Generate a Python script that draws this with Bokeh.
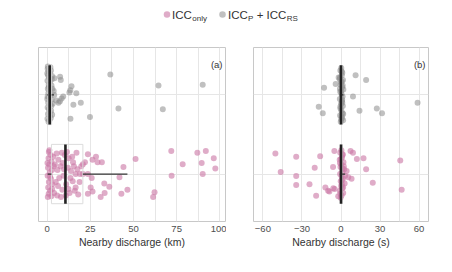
from bokeh.plotting import figure
from bokeh.layouts import column, row
from bokeh.models import Range1d, FixedTicker, Label
from bokeh.embed import file_html
from bokeh.resources import INLINE
from bokeh.core.properties import value

# ---------------- data ----------------
groups = ["ICC_only", "ICC_P + ICC_RS"]
group_pos = {"ICC_only": 1, "ICC_P + ICC_RS": 2}

# panel (a): nearby discharge distance (km)
a_gray_km = [36.6, 64.5, 90.1, 41.3, 67.0, 24.8, 13.5, 19.5, 15.2, 16.9, 14.1, 13.4, 12.9, 7.9, 7.5,
             9.3, 8.4, 7.4, 6.6, 4.2, 3.8, 4.1, 5.3,
             0.3, 0.8, 1.5, 2.2, 0.5, 1.1, 2.8, 0.2, 1.8, 0.9, 2.5, 0.4, 1.4, 3.0, 0.7, 2.0, 1.2, 0.1,
             2.6, 0.6, 1.7, 3.2, 0.3, 1.0, 2.3, 0.5, 1.6, 2.9, 0.2, 1.3, 0.8, 2.1, 0.4, 1.9, 0.1, 2.7,
             1.0, 0.3, 2.4, 1.5]
a_gray_jit = [0.26, 0.12, 0.13, -0.17, -0.18, -0.28, -0.30, -0.10, -0.125, 0.02, 0.11, 0.06, 0.03, 0.19, 0.23,
              -0.02, -0.045, -0.08, -0.10, 0.21, 0.05, 0.0, -0.07,
              0.33, 0.30, 0.28, 0.31, 0.25, 0.22, 0.24, 0.18, 0.17, 0.13, 0.12, 0.08, 0.06, 0.08, 0.02, 0.0, -0.03, -0.05,
              -0.06, -0.10, -0.12, -0.11, -0.16, -0.18, -0.20, -0.24, -0.26, -0.25, -0.30, -0.32, -0.34, -0.29, 0.36, 0.35, 0.27, 0.20,
              0.10, -0.02, -0.14, -0.22]

a_pink_km = [71.9, 87.0, 91.9, 96.5, 78.5, 89.5, 97.4, 72.1, 90.1, 51.2, 44.2, 41.9, 46.5, 43.0, 62.2, 61.4,
             36.0, 33.1, 33.3, 31.0, 23.6, 25.2, 26.3, 25.8, 23.6, 26.3, 28.3, 29.2, 31.7, 21.9, 20.7, 19.8,
             19.0, 20.7, 23.6,
             1.0, 2.0, 0.8, 2.5, 1.2, 0.5, 2.8, 1.5, 0.3, 2.2, 1.0, 3.0, 0.6, 1.8, 0.9, 2.4, 1.3, 0.2, 3.5,
             1.7, 4.0, 3.8, 0.4, 2.9,
             5.5, 6.5, 6.0, 7.0, 6.3, 5.8, 8.5, 9.0, 9.5, 8.8, 11.5, 12.5, 12.0, 13.5, 11.0, 13.0, 14.5, 15.5,
             14.8, 16.0, 17.0, 17.5, 16.5, 18.0, 13.8, 10.2, 7.8, 10.8, 12.3, 15.0, 16.5, 8.0, 9.8, 5.0, 4.5, 18.8]
a_pink_jit = [0.29, 0.27, 0.29, 0.20, 0.125, 0.14, 0.07, -0.02, 0.0, 0.19, 0.09, -0.04, -0.20, -0.25, -0.23, -0.29,
              -0.16, -0.12, -0.24, -0.29, -0.25, -0.17, -0.22, -0.05, 0.25, 0.18, 0.22, 0.15, 0.15, 0.15, 0.125, 0.10,
              0.0, 0.0, 0.0,
              0.28, 0.24, 0.20, 0.16, 0.12, 0.08, 0.05, 0.02, -0.02, -0.06, -0.10, -0.13, -0.17, -0.21, -0.25, -0.28, 0.30, 0.14, 0.22,
              -0.03, -0.24, 0.10, -0.29, -0.19,
              0.26, 0.18, 0.05, -0.05, -0.15, -0.27, 0.27, 0.14, -0.02, -0.20, 0.28, 0.20, 0.08, -0.05, -0.13, -0.24, 0.22, 0.10,
              -0.09, -0.21, 0.27, 0.06, -0.17, -0.26, 0.04, 0.24, 0.10, -0.27, -0.19, 0.15, 0.0, -0.29, 0.06, -0.10, 0.12, -0.10]

# box statistics (panel a): q1, median, q3, lower whisker, upper whisker
a_box_gray = [0.4, 1.5, 2.6, 0.0, 4.0]
a_box_pink = [2.5, 10.6, 20.7, 0.3, 46.5]

# panel (b): nearby discharge time (s)
b_gray_s = [11.2, 19.3, -13.0, -4.1, 9.2, -17.1, -14.0, 14.2, 27.5, 31.5, 58.8, -1.8,
            0.2, -0.5, 1.0, 0.6, -0.8, 1.5, 0.1, -0.3, 0.9, 1.8, -0.6, 0.4, 1.2, -0.9, 0.7, 0.0, 1.4, -0.4,
            0.3, 1.1, -0.7, 0.8, 1.6, -0.2, 0.5, -1.0, 1.3, 0.2, 0.9, -0.5, 1.7, 0.1, 0.6, -0.8, 1.0, 0.4]
b_gray_jit = [0.25, 0.19, 0.09, 0.14, -0.02, -0.15, -0.23, -0.20, -0.17, -0.23, -0.10, 0.22,
              0.34, 0.31, 0.28, 0.25, 0.22, 0.19, 0.16, 0.13, 0.10, 0.07, 0.04, 0.01, -0.02, -0.05, -0.08, -0.11, -0.14, -0.17,
              -0.20, -0.23, -0.26, -0.29, -0.32, -0.34, 0.30, 0.20, 0.12, 0.05, -0.06, -0.15, -0.24, -0.31, 0.17, 0.08, -0.10, -0.27]

b_pink_s = [-50.4, -34.4, -16.0, -5.1, -46.3, -34.4, -20.2, -6.1, -34.4, -24.2, -12.0, -9.9, -8.9, -5.9, -4.9,
            -19.1, -2.1, 7.3, 9.2, 12.2, 17.3, 19.3, 4.3, 5.6, 8.1, 24.4, 45.5, 46.6,
            0.3, -0.6, 1.2, 0.8, -1.0, 1.9, 0.2, -0.4, 2.4, 1.0, -0.7, 0.5, 1.5, -0.2, 2.8, 0.1, 0.9, -0.9,
            1.7, 0.4, -0.3, 1.3, 2.1, 0.0, 0.7, -0.5, 1.1, 3.2, 0.6, -0.8, 1.6]
b_pink_jit = [0.26, 0.22, 0.225, 0.29, 0.025, -0.025, 0.08, 0.09, -0.14, -0.13, -0.17, -0.21, -0.22, -0.18, -0.19,
              -0.275, -0.28, 0.29, 0.27, 0.19, 0.20, 0.06, 0.04, -0.04, -0.06, -0.11, 0.17, -0.20,
              0.30, 0.27, 0.24, 0.21, 0.18, 0.15, 0.12, 0.09, 0.06, 0.03, 0.0, -0.03, -0.06, -0.09, -0.12, -0.15, -0.18, -0.21,
              -0.24, -0.27, -0.30, 0.25, 0.10, 0.19, -0.13, -0.25, 0.07, -0.02, -0.08, 0.14, -0.17]

b_box_gray = [-0.3, 0.0, 0.8, -1.0, 1.8]
b_box_pink = [-0.3, 0.0, 0.9, -1.0, 3.2]

a_ticks = [0, 25, 50, 75, 100]
a_minor = [12.5, 37.5, 62.5, 87.5]
b_ticks = [-60, -30, 0, 30, 60]
b_minor = [-45, -15, 15, 45]

PINK = "#CC79A7"
GRAY = "#8c8c8c"
FONT = "Liberation Sans"
GRID = "#e6e6e6"


def panel(xr, ticks, minor, gx, gj, px, pj, gbox, pbox, xlabel, tag, mb_left, mb_right):
    p = figure(frame_width=xr[2], frame_height=174, x_range=Range1d(xr[0], xr[1]),
               y_range=Range1d(0.4, 2.6), min_border_left=mb_left, min_border_right=mb_right,
               min_border_top=9, min_border_bottom=0, toolbar_location=None, output_backend="svg")
    p.background_fill_color = "white"
    p.outline_line_color = "#c8c8c8"
    p.outline_line_width = 1
    p.yaxis.visible = False
    p.xaxis.ticker = FixedTicker(ticks=ticks, minor_ticks=minor)
    p.xgrid.ticker = FixedTicker(ticks=ticks + minor)
    p.xgrid.grid_line_color = GRID
    p.xgrid.grid_line_width = 1
    p.ygrid.ticker = FixedTicker(ticks=[1, 2])
    p.ygrid.grid_line_color = GRID
    p.ygrid.grid_line_width = 1
    ax = p.xaxis[0]
    ax.axis_line_color = None
    ax.major_tick_line_color = None
    ax.minor_tick_line_color = None
    ax.major_tick_out = 0
    ax.major_tick_in = 0
    ax.minor_tick_out = 0
    ax.minor_tick_in = 0
    ax.major_label_standoff = 4
    ax.major_label_text_font = FONT
    ax.major_label_text_font_size = "9.5px"
    ax.major_label_text_color = "#4d4d4d"
    ax.axis_label = xlabel
    ax.axis_label_standoff = 1
    ax.axis_label_text_font = FONT
    ax.axis_label_text_font_size = "10.5px"
    ax.axis_label_text_font_style = "normal"
    ax.axis_label_text_color = "#333333"

    gy = [group_pos["ICC_P + ICC_RS"] + j for j in gj]
    py = [group_pos["ICC_only"] + j for j in pj]
    p.scatter(gx, gy, size=6, fill_color=GRAY, fill_alpha=0.55, line_color=None)
    p.scatter(px, py, size=6, fill_color=PINK, fill_alpha=0.62, line_color=None)

    for box, g in ((gbox, "ICC_P + ICC_RS"), (pbox, "ICC_only")):
        yc = group_pos[g]
        q1, med, q3, lo, hi = box
        p.quad(left=[q1], right=[q3], bottom=[yc - 0.375], top=[yc + 0.375],
               fill_color=None, line_color="#dcdcdc", line_width=1)
        p.segment(x0=[lo, q3], y0=[yc, yc], x1=[q1, hi], y1=[yc, yc],
                  line_color="#333333", line_width=1.3)
        p.segment(x0=[med], y0=[yc - 0.375], x1=[med], y1=[yc + 0.375],
                  line_color="#222222", line_width=2.6)

    p.add_layout(Label(x=xr[1], y=2.6 - 0.14, x_offset=-3, text=tag, text_align="right",
                       text_baseline="top", text_font=FONT, text_font_size="9.5px",
                       text_color="#333333"))
    return p


left = panel((-5.0, 103.3, 187), a_ticks, a_minor, a_gray_km, a_gray_jit, a_pink_km, a_pink_jit,
             a_box_gray, a_box_pink, "Nearby discharge (km)", "(a)", 38, 1)
right = panel((-67.2, 67.2, 175), b_ticks, b_minor, b_gray_s, b_gray_jit, b_pink_s, b_pink_jit,
              b_box_gray, b_box_pink, "Nearby discharge (s)", "(b)", 27, 8)

# legend strip
leg = figure(width=444, height=38, x_range=Range1d(0, 444), y_range=Range1d(38, 0),
             min_border=0, toolbar_location=None, output_backend="svg")
leg.axis.visible = False
leg.grid.visible = False
leg.outline_line_color = None
leg.scatter([166.5], [14], size=6.5, fill_color=PINK, fill_alpha=0.62, line_color=None)
leg.scatter([222], [14], size=6.5, fill_color=GRAY, fill_alpha=0.55, line_color=None)
leg.text(x=[171.5, 227.5, 256.2], y=[14, 14, 14], text=["ICC", "ICC", "+ ICC"],
         text_font=value(FONT), text_font_size="11.5px", text_baseline="middle",
         text_align="left", text_color="#333333")
leg.text(x=[191.8, 247.6, 286.2], y=[17.5, 17.5, 17.5], text=["only", "P", "RS"],
         text_font=value(FONT), text_font_size="8px", text_baseline="middle",
         text_align="left", text_color="#333333")

layout = column(leg, row(left, right))
open("out.html", "w").write(file_html(layout, INLINE))
